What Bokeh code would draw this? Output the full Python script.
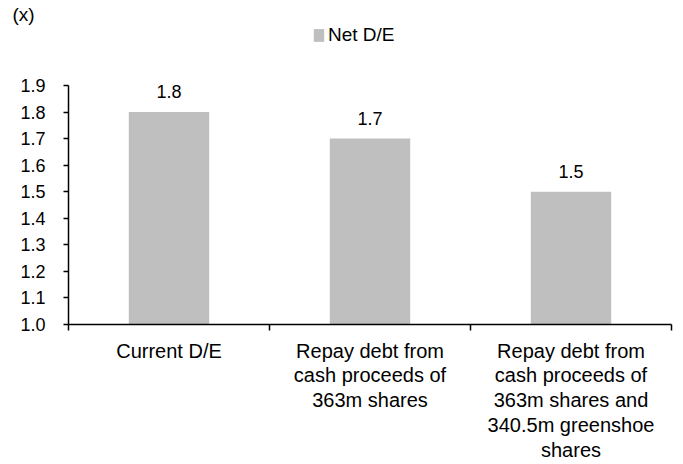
from bokeh.plotting import figure
from bokeh.models import (ColumnDataSource, Range1d, LinearAxis, FixedTicker,
                          LabelSet, Legend, LegendItem, PrintfTickFormatter)
from bokeh.core.properties import value
from bokeh.embed import file_html
from bokeh.resources import INLINE

categories = ["Current D/E",
              "Repay debt from\ncash proceeds of\n363m shares",
              "Repay debt from\ncash proceeds of\n363m shares and\n340.5m greenshoe\nshares"]
net_de = [1.8, 1.7, 1.5]
value_labels = ["1.8", "1.7", "1.5"]
y_ticks = [1.0, 1.1, 1.2, 1.3, 1.4, 1.5, 1.6, 1.7, 1.8, 1.9]
y_min, y_max = 1.0, 1.9

FONT = "Liberation Sans"
BAR = "#bfbfbf"

# layout (pixels)
W, H = 683, 464
LEFT, RIGHT, TOP, BOTTOM = 68, 12, 20, 140
AXIS_TOP_PX = 85  # where the 1.9 tick sits
px_per_unit = (H - BOTTOM - AXIS_TOP_PX) / (y_max - y_min)
y_end = y_max + (AXIS_TOP_PX - TOP) / px_per_unit

xs = [i + 0.5 for i in range(len(categories))]
src = ColumnDataSource(dict(x=xs, top=net_de, lab=value_labels))

p = figure(width=W, height=H, output_backend="svg", toolbar_location=None,
           x_range=Range1d(0, len(categories)), y_range=Range1d(y_min, y_end),
           x_axis_location=None, y_axis_location=None,
           min_border_left=LEFT, min_border_right=RIGHT, min_border_top=TOP,
           min_border_bottom=BOTTOM)
p.outline_line_color = None
p.xgrid.visible = False
p.ygrid.visible = False
p.background_fill_color = "white"
p.border_fill_color = "white"

p.title.text = "(x)"
p.title.align = "left"
p.title.offset = -56
p.title.standoff = -8
p.title.text_font = FONT
p.title.text_font_size = "19px"
p.title.text_font_style = "normal"
p.title.text_color = "black"

bars = p.vbar(x="x", top="top", bottom=y_min, width=0.4, source=src,
              fill_color=BAR, line_color=None)

# y axis
yax = LinearAxis(ticker=FixedTicker(ticks=y_ticks), formatter=PrintfTickFormatter(format="%.1f"),
                 bounds=(y_min, y_max))
yax.axis_line_color = "black"
yax.axis_line_width = 1.5
yax.major_tick_line_width = 1.5
yax.major_tick_in = 0
yax.major_tick_out = 5
yax.minor_tick_line_color = None
yax.major_label_text_font = FONT
yax.major_label_text_font_size = "18px"
yax.major_label_text_color = "black"
yax.major_label_standoff = 18
p.add_layout(yax, "left")

# x axis: boundary ticks
xax = LinearAxis(ticker=FixedTicker(ticks=[0, 1, 2, 3]))
xax.axis_line_color = "black"
xax.axis_line_width = 1.5
xax.major_tick_line_width = 1.5
xax.major_tick_in = 0
xax.major_tick_out = 6
xax.minor_tick_line_color = None
xax.major_label_overrides = {0: "", 1: "", 2: "", 3: ""}
xax.major_label_text_font_size = "0px"
xax.major_label_standoff = 0
p.add_layout(xax, "below")

# x axis: category labels
cax = LinearAxis(ticker=FixedTicker(ticks=xs))
cax.axis_line_color = None
cax.major_tick_line_color = None
cax.minor_tick_line_color = None
cax.major_label_overrides = {x: c for x, c in zip(xs, categories)}
cax.major_label_text_font = FONT
cax.major_label_text_font_size = "20px"
cax.major_label_text_color = "black"
cax.major_label_text_line_height = 1.13
cax.major_label_standoff = 3
p.add_layout(cax, "below")

labels = LabelSet(x="x", y="top", text="lab", source=src, text_align="center",
                  text_baseline="bottom", y_offset=14, text_font=value(FONT),
                  text_font_size="18px", text_color="black")
p.add_layout(labels)

legend = Legend(items=[LegendItem(label="Net D/E", renderers=[bars])],
                location=(244, 278), orientation="horizontal",
                padding=0, margin=0, spacing=0, border_line_color=None,
                background_fill_alpha=0, glyph_width=13, glyph_height=16,
                label_standoff=3, label_text_font=FONT, label_text_font_size="19px",
                label_text_color="black", label_height=16, label_text_baseline="middle")
p.add_layout(legend, "center")

open("out.html", "w").write(file_html(p, INLINE))
